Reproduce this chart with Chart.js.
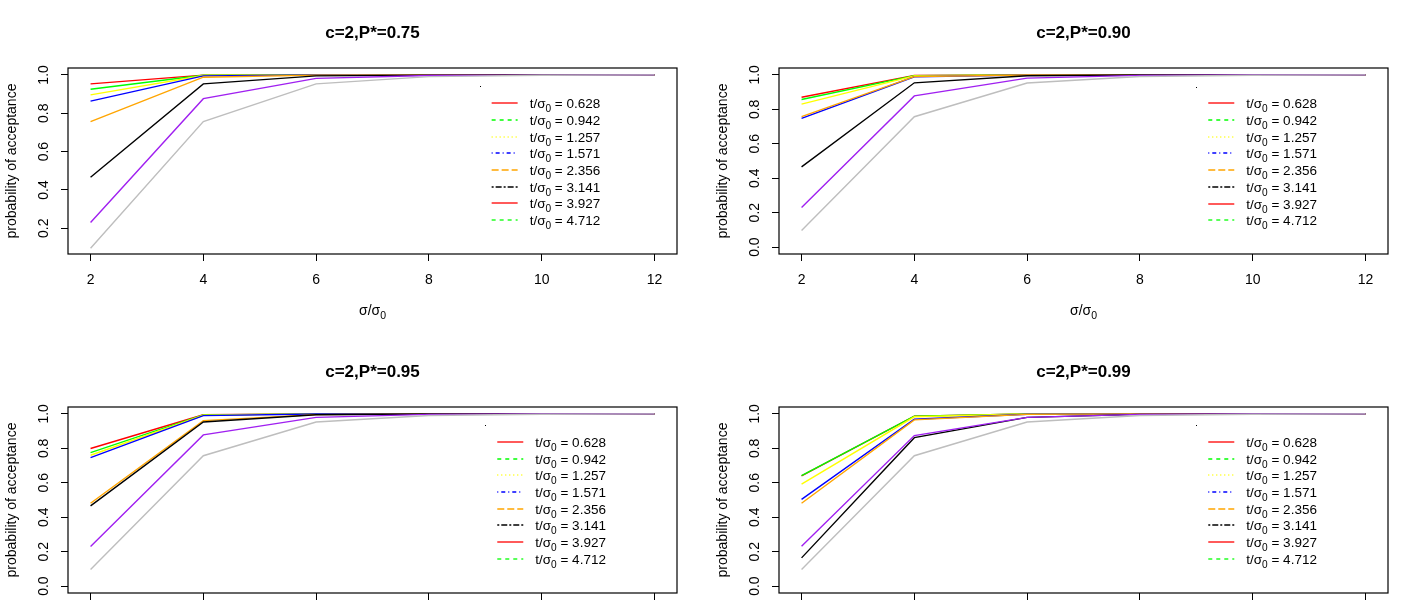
<!DOCTYPE html>
<html>
<head>
<meta charset="utf-8">
<script src="https://cdn.jsdelivr.net/npm/chart.js@4.4.0/dist/chart.umd.min.js"></script>
<style>
  html, body { margin: 0; padding: 0; background: #fff; }
  body { width: 1422px; height: 600px; overflow: hidden; position: relative; }
  .panel { position: absolute; width: 711px; height: 339px; }
</style>
</head>
<body>
<div class="panel" style="left:0;top:0"><canvas id="p75" width="711" height="339"></canvas></div>
<div class="panel" style="left:711px;top:0"><canvas id="p90" width="711" height="339"></canvas></div>
<div class="panel" style="left:0;top:339px"><canvas id="p95" width="711" height="339"></canvas></div>
<div class="panel" style="left:711px;top:339px"><canvas id="p99" width="711" height="339"></canvas></div>
<script>
// x values (sigma / sigma0) and tick marks
const sigmaRatio = [2, 4, 6, 8, 10, 12];
const xTicks = [2, 4, 6, 8, 10, 12];
const yTicksTop = [0.2, 0.4, 0.6, 0.8, 1.0];
const yTicksAll = [0.0, 0.2, 0.4, 0.6, 0.8, 1.0];

// line colours, in plotting order
const seriesColors = ['#FF0000', '#00FF00', '#FFFF00', '#0000FF', '#FFA500', '#000000', '#A020F0', '#BEBEBE'];

// probability of acceptance, one row per line (red, green, yellow, blue, orange, black, purple, gray)
const accept75 = [
  [0.953, 0.999, 1.000, 1.000, 1.000, 1.000],
  [0.925, 0.998, 1.000, 1.000, 1.000, 1.000],
  [0.896, 0.997, 1.000, 1.000, 1.000, 1.000],
  [0.863, 0.995, 1.000, 1.000, 1.000, 1.000],
  [0.756, 0.988, 0.999, 1.000, 1.000, 1.000],
  [0.466, 0.953, 0.995, 0.999, 1.000, 1.000],
  [0.230, 0.876, 0.982, 0.997, 0.999, 1.000],
  [0.096, 0.757, 0.953, 0.991, 0.998, 1.000]
];
const accept90 = [
  [0.870, 0.997, 1.000, 1.000, 1.000, 1.000],
  [0.857, 0.996, 1.000, 1.000, 1.000, 1.000],
  [0.830, 0.994, 1.000, 1.000, 1.000, 1.000],
  [0.747, 0.989, 0.999, 1.000, 1.000, 1.000],
  [0.758, 0.990, 0.999, 1.000, 1.000, 1.000],
  [0.466, 0.954, 0.995, 0.999, 1.000, 1.000],
  [0.230, 0.878, 0.981, 0.997, 0.999, 1.000],
  [0.096, 0.757, 0.953, 0.991, 0.998, 1.000]
];
const accept95 = [
  [0.799, 0.995, 1.000, 1.000, 1.000, 1.000],
  [0.775, 0.994, 1.000, 1.000, 1.000, 1.000],
  [0.760, 0.992, 1.000, 1.000, 1.000, 1.000],
  [0.746, 0.990, 0.999, 1.000, 1.000, 1.000],
  [0.481, 0.961, 0.996, 1.000, 1.000, 1.000],
  [0.466, 0.953, 0.995, 0.999, 1.000, 1.000],
  [0.230, 0.878, 0.980, 0.997, 0.999, 1.000],
  [0.096, 0.757, 0.953, 0.991, 0.998, 1.000]
];
const accept99 = [
  [0.640, 0.987, 0.999, 1.000, 1.000, 1.000],
  [0.641, 0.987, 0.999, 1.000, 1.000, 1.000],
  [0.592, 0.983, 0.999, 1.000, 1.000, 1.000],
  [0.504, 0.969, 0.998, 1.000, 1.000, 1.000],
  [0.481, 0.965, 0.997, 1.000, 1.000, 1.000],
  [0.164, 0.862, 0.980, 0.997, 0.999, 1.000],
  [0.232, 0.874, 0.980, 0.997, 0.999, 1.000],
  [0.096, 0.757, 0.953, 0.991, 0.998, 1.000]
];

// legend (drawn R style, not tied to the lines)
const legendLabels = ['0.628', '0.942', '1.257', '1.571', '2.356', '3.141', '3.927', '4.712'];
const legendColors = ['#FF0000', '#00FF00', '#FFFF00', '#0000FF', '#FFA500', '#000000', '#FF0000', '#00FF00'];
const legendDash = [[], [4, 4], [1, 3], [1, 3, 4, 3], [7, 3], [2, 2, 6, 2], [], [4, 4]];

const FONT = '"Liberation Sans", Arial, Helvetica, sans-serif';

// text like "t/σ0 = x" with the 0 as a subscript
function drawSub(ctx, x, y, pre, sub, post, size, align) {
  ctx.font = size + 'px ' + FONT;
  const w1 = ctx.measureText(pre).width;
  const w3 = ctx.measureText(post).width;
  ctx.font = (size * 0.75) + 'px ' + FONT;
  const w2 = ctx.measureText(sub).width;
  let x0 = x;
  if (align === 'center') x0 = x - (w1 + w2 + w3) / 2;
  ctx.textAlign = 'left';
  ctx.textBaseline = 'alphabetic';
  ctx.font = size + 'px ' + FONT;
  ctx.fillText(pre, x0, y);
  ctx.font = (size * 0.75) + 'px ' + FONT;
  ctx.fillText(sub, x0 + w1, y + size * 0.28);
  ctx.font = size + 'px ' + FONT;
  ctx.fillText(post, x0 + w1 + w2, y);
}

const rFrame = {
  id: 'rFrame',
  afterDraw(chart, args, opts) {
    const { ctx, chartArea: a, scales: { x, y } } = chart;
    ctx.save();
    ctx.strokeStyle = '#000';
    ctx.lineWidth = 1.2;
    ctx.strokeRect(a.left, a.top, a.right - a.left, a.bottom - a.top);

    ctx.fillStyle = '#000';
    drawSub(ctx, (a.left + a.right) / 2, a.bottom + 61, 'σ/σ', '0', '', 14, 'center');

    const ax = x.getPixelForValue(opts.at[0]);
    const ay = y.getPixelForValue(opts.at[1]);
    ctx.fillRect(Math.round(ax), Math.round(ay), 1, 1);
    legendLabels.forEach((lab, i) => {
      const ry = Math.round(ay + 16.7 * (i + 1));
      ctx.strokeStyle = legendColors[i];
      ctx.lineWidth = 1.3;
      ctx.setLineDash(legendDash[i]);
      ctx.beginPath();
      ctx.moveTo(ax + 12, ry);
      ctx.lineTo(ax + 38, ry);
      ctx.stroke();
      ctx.setLineDash([]);
      ctx.fillStyle = '#000';
      drawSub(ctx, ax + 50, ry + 5, 't/σ', '0', ' = ' + lab, 13.5);
    });
    ctx.restore();
  }
};

function makePanel(id, title, rows, yMin, yMax, yTicks, legendAt) {
  const tickFont = { family: FONT, size: 14 };
  new Chart(document.getElementById(id), {
    type: 'line',
    data: {
      datasets: rows.map((r, i) => ({
        data: sigmaRatio.map((s, j) => ({ x: s, y: r[j] })),
        borderColor: seriesColors[i],
        borderWidth: 1.4,
        pointRadius: 0,
        tension: 0,
        fill: false,
        order: rows.length - i
      }))
    },
    options: {
      responsive: false,
      animation: false,
      devicePixelRatio: 1,
      layout: { padding: { left: 0, right: 34, top: 0, bottom: 0 } },
      plugins: {
        legend: { display: false },
        tooltip: { enabled: false },
        title: {
          display: true, text: title, fullSize: false, color: '#000',
          font: { family: FONT, size: 17, weight: 'bold' },
          padding: { top: 22.8, bottom: 24.8 }
        },
        rFrame: { at: legendAt }
      },
      scales: {
        x: {
          type: 'linear', min: 1.6, max: 12.4,
          afterBuildTicks: s => { s.ticks = xTicks.map(v => ({ value: v })); },
          afterFit: s => { s.height = 85; },
          grid: { drawOnChartArea: false, tickLength: 7, color: '#000' },
          border: { display: false },
          ticks: { color: '#000', font: tickFont, padding: 10.6, maxRotation: 0, autoSkip: false }
        },
        y: {
          type: 'linear', min: yMin, max: yMax,
          afterBuildTicks: s => { s.ticks = yTicks.map(v => ({ value: v })); },
          afterFit: s => { s.width = 68; },
          grid: { drawOnChartArea: false, tickLength: 7, color: '#000' },
          border: { display: false },
          ticks: {
            color: '#000', font: tickFont, padding: 7, minRotation: 90, maxRotation: 90,
            crossAlign: 'center', autoSkip: false, callback: v => v.toFixed(1)
          },
          title: {
            display: true, text: 'probability of acceptance', color: '#000',
            font: tickFont, padding: { top: 4, bottom: 0 }
          }
        }
      }
    },
    plugins: [rFrame]
  });
}

makePanel('p75', 'c=2,P*=0.75', accept75, 0.066, 1.036, yTicksTop, [8.9, 0.94]);
makePanel('p90', 'c=2,P*=0.90', accept90, -0.04, 1.04, yTicksAll, [9.0, 0.932]);
makePanel('p95', 'c=2,P*=0.95', accept95, -0.04, 1.04, yTicksAll, [9.0, 0.934]);
makePanel('p99', 'c=2,P*=0.99', accept99, -0.04, 1.04, yTicksAll, [9.0, 0.934]);
</script>
</body>
</html>
